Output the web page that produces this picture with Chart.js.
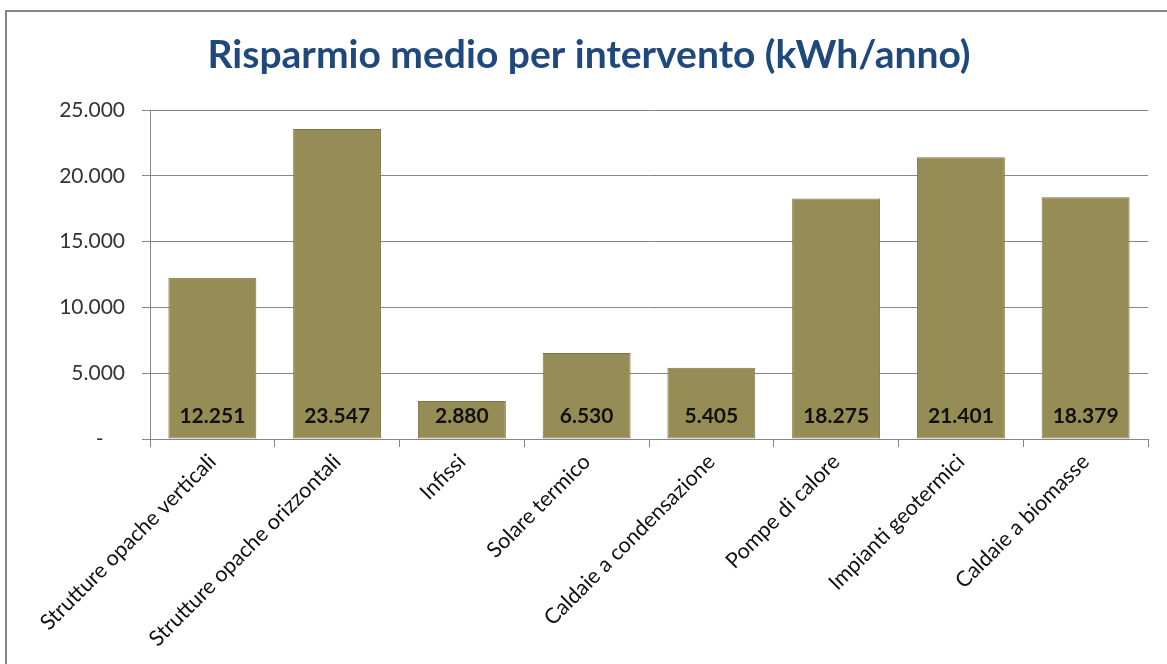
<!DOCTYPE html>
<html>
<head>
<meta charset="utf-8">
<script src="https://cdn.jsdelivr.net/npm/chart.js@4.4.1/dist/chart.umd.min.js"></script>
<style>
  html, body { margin:0; padding:0; background:#fff; overflow:hidden; }
  #frame { position:absolute; left:5px; top:10px; width:1200px; height:700px; border:2px solid #858585; box-sizing:border-box; }
  #c { position:absolute; left:0; top:0; }
</style>
</head>
<body>
<div id="frame"></div>
<canvas id="c" width="1167" height="664"></canvas>
<script>
const titleText = 'Risparmio medio per intervento (kWh/anno)';
const categories = ['Strutture opache verticali','Strutture opache orizzontali','Infissi','Solare termico','Caldaie a condensazione','Pompe di calore','Impianti geotermici','Caldaie a biomasse'];
const savings = [12251, 23547, 2880, 6530, 5405, 18275, 21401, 18379];
const yTicks = [0, 5000, 10000, 15000, 20000, 25000];

function fmt(v) {
  const s = String(Math.round(v));
  return s.replace(/\B(?=(\d{3})+(?!\d))/g, '.');
}

const barLabels = {
  id: 'barLabels',
  afterDatasetsDraw(chart) {
    const ctx = chart.ctx;
    const meta = chart.getDatasetMeta(0);
    const y0 = chart.scales.y.getPixelForValue(0);
    ctx.save();
    ctx.font = 'bold 21px Lato';
    ctx.fillStyle = '#111';
    ctx.textAlign = 'center';
    ctx.textBaseline = 'middle';
    meta.data.forEach((bar, i) => {
      ctx.fillText(fmt(savings[i]), bar.x, y0 - 23);
    });
    ctx.restore();
  }
};

new Chart(document.getElementById('c'), {
  type: 'bar',
  data: {
    labels: categories,
    datasets: [{
      data: savings,
      backgroundColor: '#968C56',
      borderColor: '#7C7443',
      borderWidth: 1,
      borderSkipped: false,
      categoryPercentage: 1,
      barPercentage: 0.705
    }]
  },
  options: {
    responsive: false,
    animation: false,
    layout: { padding: { left: 30, right: 19, top: 0, bottom: 0 } },
    plugins: {
      legend: { display: false },
      tooltip: { enabled: false },
      title: {
        display: true,
        text: titleText,
        color: '#1F497D',
        font: { family: 'Lato', size: 39, weight: 'bold', lineHeight: 1.2 },
        padding: { top: 32, bottom: 31.2 }
      }
    },
    scales: {
      x: {
        offset: true,
        grid: { display: true, offset: true, drawOnChartArea: false, drawTicks: true, tickLength: 8, color: '#868686' },
        border: { display: true, color: '#868686', width: 1 },
        ticks: {
          color: '#111',
          font: { family: 'Lato', size: 21.5 },
          minRotation: 45, maxRotation: 45,
          autoSkip: false,
          padding: 2
        },
        afterFit(scale) { scale.height = 225; }
      },
      y: {
        min: 0, max: 25000,
        afterBuildTicks(scale) { scale.ticks = yTicks.map(v => ({ value: v })); },
        grid: { color: '#868686', drawTicks: true, tickLength: 8 },
        border: { display: true, color: '#868686', width: 1 },
        ticks: {
          color: '#333',
          font: { family: 'Lato', size: 21 },
          padding: 17,
          callback: (v) => v === 0 ? '-    ' : fmt(v)
        },
        afterFit(scale) { scale.width = 120; }
      }
    }
  },
  plugins: [barLabels]
});
</script>
</body>
</html>
